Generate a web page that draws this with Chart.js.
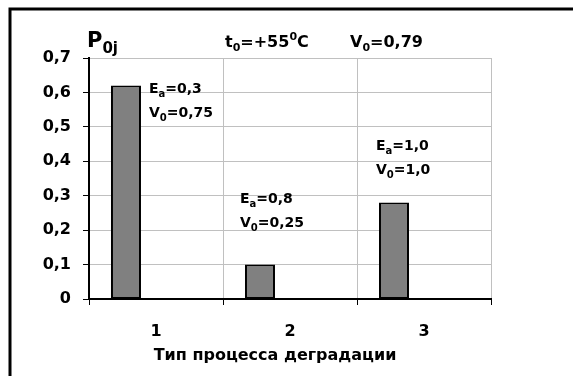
<!DOCTYPE html>
<html>
<head>
<meta charset="utf-8">
<script src="https://cdn.jsdelivr.net/npm/chart.js@4"></script>
<style>
  body { margin: 0; background: #fff; }
</style>
</head>
<body>
<canvas id="chart" width="573" height="376"></canvas>
<script>
// data
const categories = ['1', '2', '3'];
const p0j = [0.62, 0.10, 0.28];
const yTickLabels = ['0', '0,1', '0,2', '0,3', '0,4', '0,5', '0,6', '0,7'];
const noteEa = ['0,3', '0,8', '1,0'];
const noteV0 = ['0,75', '0,25', '1,0'];
const xTitle = 'Тип процесса деградации';

const FONT = '"DejaVu Sans", "Liberation Sans", Arial, sans-serif';

// draws text made of [text, mode] parts, mode = '' | 'sub' | 'sup'
function drawRich(ctx, x, y, parts, size) {
    parts.forEach(function(p) {
        const small = p[1] ? Math.round(size * 0.7) : size;
        ctx.font = 'bold ' + small + 'px ' + FONT;
        let dy = 0;
        if (p[1] === 'sub') dy = size * 0.28;
        if (p[1] === 'sup') dy = -size * 0.42;
        ctx.fillText(p[0], x, y + dy);
        x += ctx.measureText(p[0]).width;
    });
}

const decorPlugin = {
    id: 'decor',
    beforeDraw(chart) {
        const ctx = chart.ctx;
        ctx.save();
        ctx.fillStyle = '#fff';
        ctx.fillRect(0, 0, chart.width, chart.height);
        // frame (top and left edges only are visible)
        ctx.strokeStyle = '#000';
        ctx.lineWidth = 3;
        ctx.beginPath();
        ctx.moveTo(10, chart.height);
        ctx.lineTo(10, 9);
        ctx.lineTo(chart.width, 9);
        ctx.stroke();
        ctx.restore();
    },
    afterDraw(chart) {
        const ctx = chart.ctx;
        ctx.save();
        ctx.fillStyle = '#000';
        ctx.textBaseline = 'alphabetic';
        ctx.textAlign = 'left';

        drawRich(ctx, 87, 47, [['P', ''], ['0j', 'sub']], 21);
        drawRich(ctx, 225, 47, [['t', ''], ['0', 'sub'], ['=+55', ''], ['0', 'sup'], ['C', '']], 16);
        drawRich(ctx, 350, 47, [['V', ''], ['0', 'sub'], ['=0,79', '']], 16);

        const notePos = [[149, 93], [240, 203], [376, 150]];
        notePos.forEach(function(pos, i) {
            drawRich(ctx, pos[0], pos[1], [['E', ''], ['a', 'sub'], ['=' + noteEa[i], '']], 14);
            drawRich(ctx, pos[0], pos[1] + 24, [['V', ''], ['0', 'sub'], ['=' + noteV0[i], '']], 14);
        });

        ctx.font = 'bold 16px ' + FONT;
        ctx.textAlign = 'center';
        ctx.fillText(xTitle, 275, 360);
        ctx.restore();
    }
};

const tickFont = { family: FONT, size: 16, weight: 'bold' };

new Chart(document.getElementById('chart'), {
    type: 'bar',
    data: {
        labels: categories,
        datasets: [{
            data: p0j,
            backgroundColor: '#808080',
            borderColor: '#000',
            borderWidth: 2,
            borderSkipped: false
        }, {
            data: [null, null, null]
        }, {
            data: [null, null, null]
        }]
    },
    options: {
        responsive: false,
        animation: false,
        categoryPercentage: 0.672,
        barPercentage: 1,
        layout: { padding: { top: 58, right: 82, left: 0, bottom: 0 } },
        plugins: {
            legend: { display: false },
            tooltip: { enabled: false }
        },
        scales: {
            x: {
                offset: true,
                grid: { color: '#c0c0c0', tickColor: '#000', tickLength: 6, offset: true },
                border: { color: '#000', width: 2 },
                ticks: { font: tickFont, color: '#000', padding: 17 },
                afterFit: function(s) { s.height = 77; }
            },
            y: {
                min: 0,
                max: 0.7,
                ticks: {
                    stepSize: 0.1,
                    font: tickFont,
                    color: '#000',
                    padding: 12,
                    callback: function(v, i) { return yTickLabels[i]; }
                },
                grid: { color: '#c0c0c0', tickColor: '#000', tickLength: 6 },
                border: { color: '#000', width: 2 },
                afterFit: function(s) { s.width = 89; }
            }
        }
    },
    plugins: [decorPlugin]
});
</script>
</body>
</html>
